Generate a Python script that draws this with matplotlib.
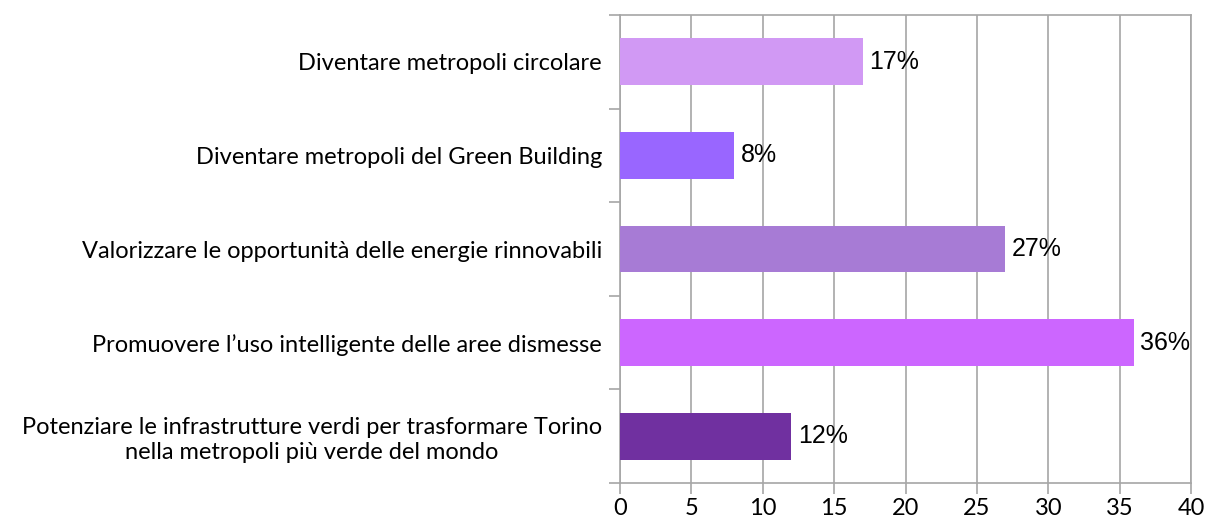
import matplotlib.pyplot as plt

# categories bottom to top (barh draws first item at the bottom)
categories = [
    "Potenziare le infrastrutture verdi per trasformare Torino\nnella metropoli più verde del mondo",
    "Promuovere l\u2019uso intelligente delle aree dismesse",
    "Valorizzare le opportunità delle energie rinnovabili",
    "Diventare metropoli del Green Building",
    "Diventare metropoli circolare",
]
values = [12, 36, 27, 8, 17]
bar_colors = ["#7030A0", "#CC66FF", "#A77BD5", "#9966FF", "#D199F4"]
x_ticks = [0, 5, 10, 15, 20, 25, 30, 35, 40]

grid_col = "#A6A6A6"

fig = plt.figure(figsize=(12.06, 5.25), dpi=100)
ax = fig.add_axes([620 / 1206, 1 - 483 / 525, 571 / 1206, 468 / 525])

ypos = list(range(len(categories)))
ax.barh(ypos, values, height=0.5, color=bar_colors, zorder=3)

for y, v in zip(ypos, values):
    ax.text(v + 0.45, y, f"{v}%", va="center", ha="left",
            fontsize=18, family="Liberation Sans", zorder=4)

ax.set_xlim(0, 40)
ax.set_ylim(-0.5, len(categories) - 0.5)
ax.set_xticks(x_ticks)
ax.set_xticklabels([str(t) for t in x_ticks], fontsize=17, family="Lato")
ax.grid(axis="x", color=grid_col, linewidth=1.2, zorder=0)

# category labels centred on bars, ticks sit between categories
ax.set_yticks(ypos)
ax.set_yticklabels(categories, fontsize=17, family="Lato", multialignment="center")
ax.tick_params(axis="y", length=0, pad=13)
ax.set_yticks([y - 0.5 for y in ypos] + [len(categories) - 0.5], minor=True)
ax.tick_params(axis="y", which="minor", length=8, color=grid_col, width=1.2)
ax.tick_params(axis="x", length=8, color=grid_col, width=1.2, pad=3)

for s in ax.spines.values():
    s.set_color(grid_col)
    s.set_linewidth(1.2)

fig.savefig("out.png", dpi=100)
